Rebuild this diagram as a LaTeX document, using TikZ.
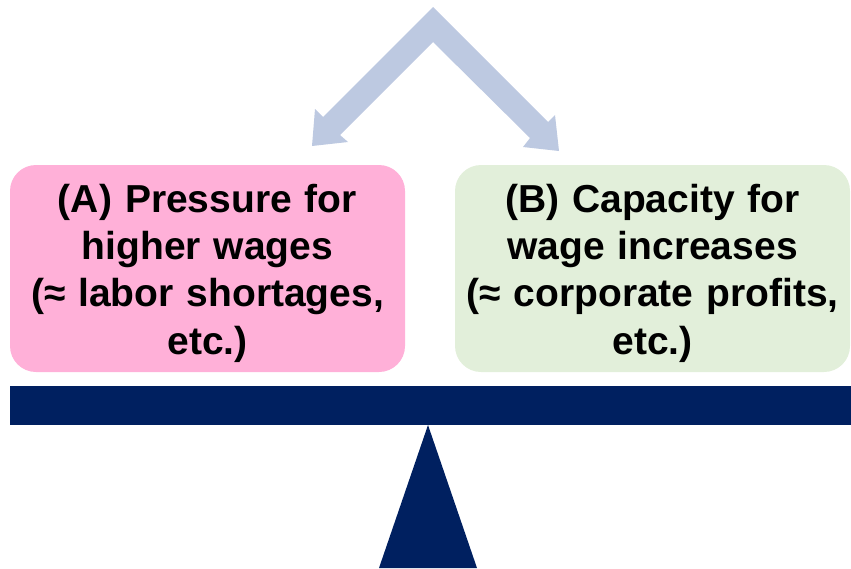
\documentclass[tikz,border=0pt]{standalone}
\usepackage{fontspec}
\setmainfont{Liberation Sans}
\definecolor{arrowblue}{HTML}{BDC9E1}
\definecolor{pinkfill}{HTML}{FFB0D8}
\definecolor{greenfill}{HTML}{E2EFDA}
\definecolor{navy}{HTML}{002060}
\begin{document}
\begin{tikzpicture}[x=1pt,y=-1pt,
  factor/.style={rounded corners=26pt, minimum width=395pt, minimum height=207pt,
    inner sep=0pt},
  factortext/.style={text width=385pt, align=center, inner sep=0pt,
    font=\bfseries\fontsize{39}{47.3}\selectfont, text=black},
]
\useasboundingbox (0,0) rectangle (851,568);

% split arrow above the two factors
\fill[arrowblue] (433,7) -- (548,122) -- (555,115) -- (559,151) -- (523,147)
  -- (530,138) -- (433,42) -- (340,135) -- (348,142) -- (312,146)
  -- (315,109) -- (323,117) -- cycle;

% the two factors
\node[factor, fill=pinkfill] (A) at (207.5,268.5) {};
\node[factor, fill=greenfill] (B) at (652.5,268.5) {};
\node[factortext] (Atext) at ([yshift=-4.5pt]A.center)
  {(A) Pressure for\\higher wages\\(≈ labor shortages,\\etc.)};
\node[factortext] (Btext) at ([yshift=-4.5pt]B.center)
  {(B) Capacity for\\wage increases\\(≈ corporate profits,\\etc.)};

% balance beam and fulcrum
\fill[navy] (10,386) rectangle (851,425);
\fill[navy] (428,425) -- (477,568) -- (379,568) -- cycle;
\end{tikzpicture}
\end{document}
